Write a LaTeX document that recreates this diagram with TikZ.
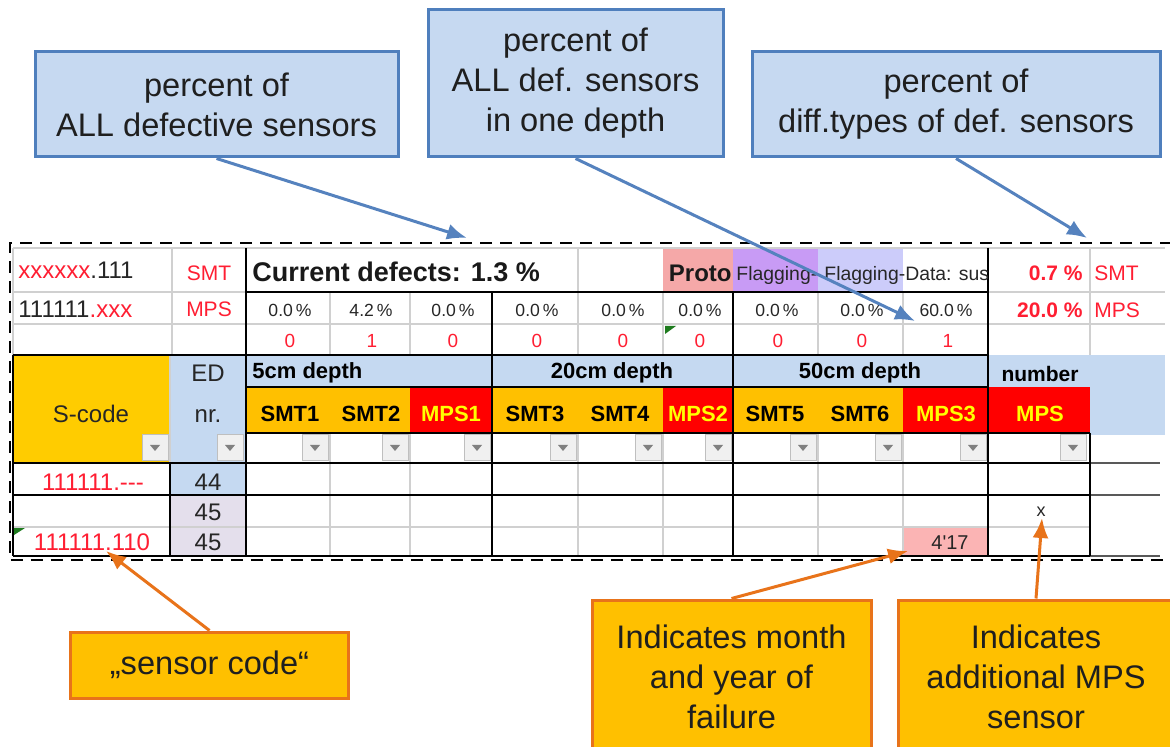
\documentclass[tikz,border=0pt]{standalone}
\usepackage{fontspec}
\usepackage{xcolor}
\setmainfont{Liberation Sans}
\usetikzlibrary{arrows.meta}

\definecolor{callblue}{HTML}{C6D9F1}
\definecolor{calledge}{HTML}{4F7FBD}
\definecolor{arrowblue}{HTML}{5582BE}
\definecolor{callorange}{HTML}{FFC000}
\definecolor{orangeedge}{HTML}{E8731A}
\definecolor{headblue}{HTML}{C5D9F1}
\definecolor{lavender}{HTML}{E4DFEC}
\definecolor{scodeyellow}{HTML}{FFCC00}
\definecolor{smtorange}{HTML}{FFC000}
\definecolor{mpsred}{HTML}{FF0000}
\definecolor{mpsyellow}{HTML}{FFFF00}
\definecolor{protopink}{HTML}{F5A8A8}
\definecolor{flagpurple}{HTML}{C89BF5}
\definecolor{flaglav}{HTML}{CCCCFA}
\definecolor{failpink}{HTML}{FBB4B4}
\definecolor{cellred}{HTML}{FF1E32}
\definecolor{celltext}{HTML}{262626}
\definecolor{gridgray}{HTML}{D0D0D0}
\definecolor{excelgreen}{HTML}{1E7B1E}

\begin{document}
\begin{tikzpicture}[x=0.5pt,y=-0.5pt,
    bluebox/.style={draw=calledge,fill=callblue,line width=1.5pt,align=center,inner sep=0pt,text=black!88,font=\fontsize{16.3}{20}\selectfont},
    orangebox/.style={draw=orangeedge,fill=callorange,line width=1.5pt,align=center,inner sep=0pt,text=black!88,font=\fontsize{16.3}{20}\selectfont},
    bluearrow/.style={-{Latex[length=10pt,width=8pt]},arrowblue,line width=1.5pt},
    orangearrow/.style={-{Latex[length=10pt,width=8pt]},orangeedge,line width=1.5pt},
    gridline/.style={gridgray,line width=0.6pt},
    boldline/.style={black,line width=1.4pt},
    thinline/.style={black,line width=0.7pt},
    btnbox/.style={fill=black!6,draw=black!25,line width=0.5pt},
    codetext/.style={inner sep=0pt,text=celltext,font=\fontsize{12}{14}\selectfont},
    redtext/.style={inner sep=0pt,text=cellred,font=\fontsize{10.5}{12}\selectfont},
    pcttext/.style={inner sep=0pt,text=celltext,font=\fontsize{8.8}{10}\selectfont},
    cnttext/.style={inner sep=0pt,text=cellred,font=\fontsize{9.5}{11}\selectfont},
    boldred/.style={inner sep=0pt,text=cellred,font=\fontsize{10.5}{12}\selectfont\bfseries},
    headtext/.style={inner sep=0pt,font=\fontsize{11}{13}\selectfont\bfseries},
    flagtext/.style={inner sep=0pt,text=celltext,font=\fontsize{9.7}{11}\selectfont}
  ]
  \useasboundingbox (0,0) rectangle (1170,747);

  % 单元格底色
  \fill[protopink] (663,248) rectangle (733,292);
  \fill[flagpurple] (733,248) rectangle (818,292);
  \fill[flaglav] (818,248) rectangle (903,292);
  \fill[scodeyellow] (13,355) rectangle (170,463);
  \fill[headblue] (171,355) rectangle (246,463);
  \fill[headblue] (246,355) rectangle (988,387);
  \fill[headblue] (988,355) rectangle (1165,435);
  \fill[smtorange] (246,387) rectangle (410,433);
  \fill[smtorange] (492,387) rectangle (663,433);
  \fill[smtorange] (733,387) rectangle (903,433);
  \fill[mpsred] (410,387) rectangle (492,433);
  \fill[mpsred] (663,387) rectangle (733,433);
  \fill[mpsred] (903,387) rectangle (988,433);
  \fill[mpsred] (988,387) rectangle (1090,433);
  \fill[white] (988,433) rectangle (1090,463);
  \fill[headblue] (171,463) rectangle (246,495);
  \fill[lavender] (171,495) rectangle (246,556);
  \fill[failpink] (903,527) rectangle (988,556);

  % 网格线
  \draw[gridline] (13,248) -- (1165,248);
  \draw[gridline] (13,292) -- (246,292) (988,292) -- (1165,292);
  \draw[gridline] (13,324) -- (1165,324);
  \draw[gridline] (13,527) -- (1090,527);
  \draw[gridline] (13,248) -- (13,355) (172,248) -- (172,355) (578,248) -- (578,292) (1090,248) -- (1090,355);
  \draw[gridline] (170,355) -- (170,463);
  \foreach \gx in {330,410,578,663,818,903}{
    \draw[gridline] (\gx,292) -- (\gx,355);
    \draw[gridline] (\gx,433) -- (\gx,556);
  }

  % 粗线
  \draw[boldline] (246,248) -- (246,556);
  \draw[boldline] (988,248) -- (988,556);
  \draw[boldline] (492,292) -- (492,556) (733,292) -- (733,556);
  \draw[boldline] (246,292) -- (988,292);
  \draw[boldline] (13,355) -- (988,355);
  \draw[boldline] (13,463) -- (1090,463) (13,495) -- (1090,495) (13,556) -- (1090,556);
  \draw[black!65,line width=1.2pt] (1090,463) -- (1160,463) (1090,495) -- (1160,495) (1090,556) -- (1160,556);
  \draw[boldline] (170,463) -- (170,556);
  \draw[boldline] (1090,433) -- (1090,556);
  \draw[thinline] (246,387) -- (988,387);
  \draw[thinline] (246,433) -- (1090,433);
  \draw[thinline] (13,355) -- (13,556);

  % 下拉按钮
  \foreach \bx in {142,217,302,382,464,550,635,705,790,875,960,1060}{
    \draw[btnbox] (\bx,435) rectangle ++(26,26);
    \fill[black!50] (\bx+8,445) -- ++(10,0) -- ++(-5,6) -- cycle;
  }

  % 绿色角标
  \fill[excelgreen] (665,326) -- (676,326) -- (665,334) -- cycle;
  \fill[excelgreen] (14,528) -- (25,528) -- (14,535) -- cycle;

  % 表头文字
  \node[codetext,anchor=west] (codeA) at (18,270) {{\color{cellred}xxxxxx}.111};
  \node[codetext,anchor=west] (codeB) at (18,309) {111111{\color{cellred}.xxx}};
  \node[redtext] (typeA) at (209,273) {SMT};
  \node[redtext] (typeB) at (209,309) {MPS};
  \node[inner sep=0pt,anchor=west,text=black!90,font=\fontsize{13.5}{16}\selectfont\bfseries] (current) at (252,272) {Current defects: 1.3 \%};
  \node[inner sep=0pt,anchor=east,text=black!90,font=\fontsize{12}{14}\selectfont\bfseries] (proto) at (732,273) {Proto};
  \begin{scope}
    \clip (733,248) rectangle (818,292);
    \node[flagtext,anchor=west] (flagA) at (736,275) {Flagging-};
  \end{scope}
  \begin{scope}
    \clip (818,248) rectangle (987,292);
    \node[flagtext,anchor=west] (flagB) at (824,275) {Flagging-Data: sus};
  \end{scope}
  \node[boldred,anchor=east] (sumSMT) at (1083,273) {0.7 \%};
  \node[redtext,anchor=west] (lblSMT) at (1094,273) {SMT};
  \node[boldred,anchor=east] (sumMPS) at (1083,310) {20.0 \%};
  \node[redtext,anchor=west] (lblMPS) at (1094,310) {MPS};

  % 百分比与个数
  \foreach \cx/\val [count=\i] in {290/0.0,371/4.2,453/0.0,537/0.0,623/0.0,700/0.0,777/0.0,862/0.0,946/60.0}
    \node[pcttext] (pct\i) at (\cx,310) {\val\,\%};
  \foreach \cx/\val [count=\i] in {290/0,372/1,453/0,537/0,623/0,700/0,778/0,862/0,948/1}
    \node[cnttext] (cnt\i) at (\cx,341) {\val};

  % 列标题
  \node[codetext] (scode) at (91,414) {S-code};
  \node[codetext] (edhead) at (208,373) {ED};
  \node[codetext] (ednr) at (208,416) {nr.};
  \node[headtext,anchor=west] (depthA) at (252,373) {5cm depth};
  \node[headtext] (depthB) at (612,373) {20cm depth};
  \node[headtext] (depthC) at (860,373) {50cm depth};
  \node[headtext,font=\fontsize{10.5}{12}\selectfont\bfseries] (numhead) at (1040,374) {number};
  \foreach \cx/\lbl/\tc [count=\i] in {290/SMT1/black,371/SMT2/black,451/MPS1/mpsyellow,535/SMT3/black,620/SMT4/black,698/MPS2/mpsyellow,775/SMT5/black,860/SMT6/black,946/MPS3/mpsyellow,1040/MPS/mpsyellow}
    \node[headtext,text=\tc] (sensor\i) at (\cx,414) {\lbl};

  % 数据行
  \node[codetext,text=cellred] (codeC) at (93,482) {111111.-{}-{}-};
  \node[codetext] (edA) at (208,482) {44};
  \node[codetext] (edB) at (208,512) {45};
  \node[codetext] (edC) at (208,542) {45};
  \node[codetext,text=cellred] (codeD) at (92,542) {111111.110};
  \node[inner sep=0pt,text=celltext,font=\fontsize{10}{12}\selectfont] (failed) at (950,543) {4\textquotesingle 17};
  \node[inner sep=0pt,text=celltext,font=\fontsize{9}{10}\selectfont] (extra) at (1041,512) {x};

  % 虚线框
  \draw[dashed,dash pattern=on 6pt off 4pt,line width=1.2pt] (1172,243) -- (10,243) -- (10,560) -- (1172,560);

  % 说明框
  \node[bluebox,minimum width=181.5pt,minimum height=52.5pt] (allpct) at (216.5,104.5) {percent of\\ALL defective sensors};
  \node[bluebox,minimum width=147.5pt,minimum height=73.5pt] (depthpct) at (575.5,83.5) {percent of\\ALL def. sensors\\in one depth};
  \node[bluebox,minimum width=204pt,minimum height=52.5pt] (typepct) at (956,104.5) {percent of\\diff.types of def. sensors};
  \node[orangebox,minimum width=139pt,minimum height=33pt] (codenote) at (209.5,665) {„sensor code“};
  \node[orangebox,minimum width=139.5pt,minimum height=77pt] (failnote) at (731.5,677) {Indicates month\\and year of\\failure};
  \node[orangebox,minimum width=138pt,minimum height=77pt] (mpsnote) at (1036,677) {Indicates\\additional MPS\\sensor};

  % 箭头
  \coordinate (tipall) at (467,238);
  \coordinate (tipdepth) at (915,321);
  \coordinate (tiptype) at (1087,238);
  \coordinate (tipcode) at (106,551);
  \coordinate (tipfail) at (908,551);
  \coordinate (tipmps) at (1042,518);
  \draw[bluearrow] (allpct.south) -- (tipall);
  \draw[bluearrow] (depthpct.south) -- (tipdepth);
  \draw[bluearrow] (typepct.south) -- (tiptype);
  \draw[orangearrow] (codenote.north) -- (tipcode);
  \draw[orangearrow] (failnote.north) -- (tipfail);
  \draw[orangearrow] (mpsnote.north) -- (tipmps);
\end{tikzpicture}
\end{document}
